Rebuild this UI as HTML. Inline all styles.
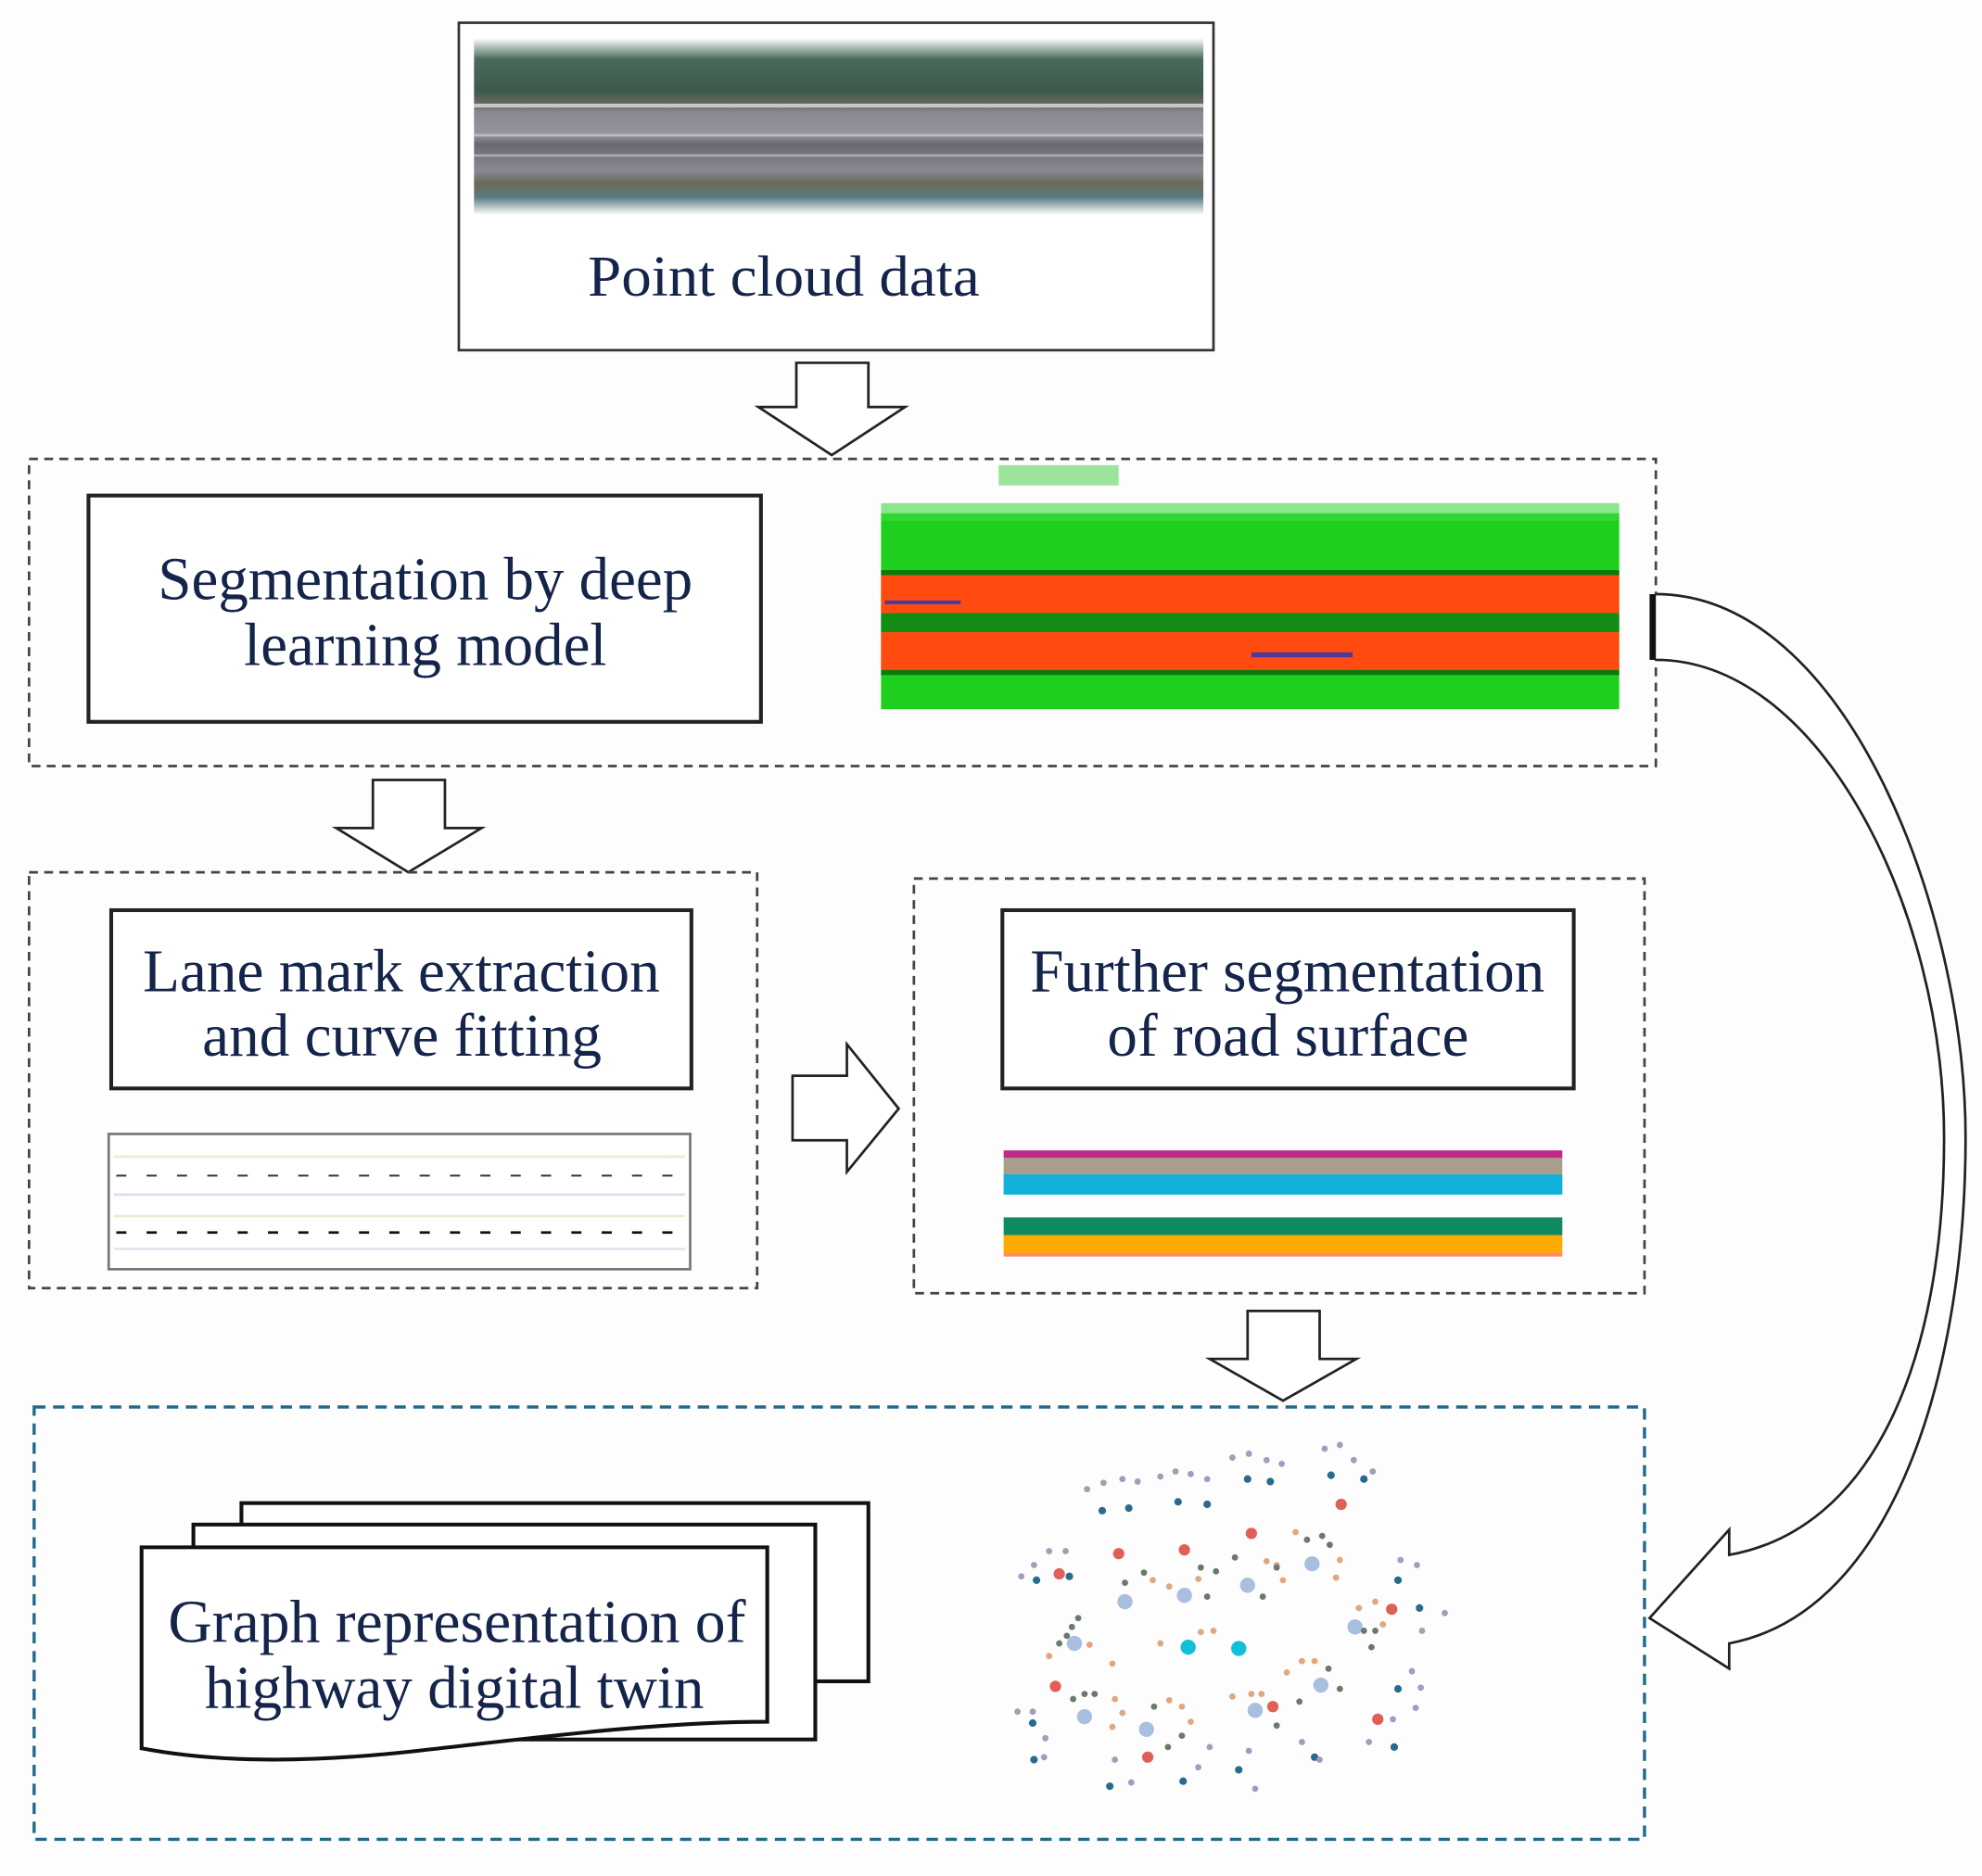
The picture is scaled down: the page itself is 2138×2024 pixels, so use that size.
<!DOCTYPE html>
<html><head><meta charset="utf-8"><style>
html,body{margin:0;padding:0;background:#fdfdfd;}
svg{display:block}
text{font-family:"Liberation Serif",serif;fill:#14244a;}
</style></head><body>
<svg width="2138" height="2024" viewBox="0 0 1568 1484" preserveAspectRatio="none" xmlns="http://www.w3.org/2000/svg">
<defs>
<linearGradient id="pc" x1="0" y1="0" x2="0" y2="1">
<stop offset="0" stop-color="#ffffff"/>
<stop offset="0.12" stop-color="#4a6a5c"/>
<stop offset="0.3" stop-color="#3c5a4a"/>
<stop offset="0.38" stop-color="#6e6a5a"/>
<stop offset="0.42" stop-color="#8a8790"/>
<stop offset="0.55" stop-color="#96939c"/>
<stop offset="0.6" stop-color="#6a6870"/>
<stop offset="0.75" stop-color="#8a8890"/>
<stop offset="0.82" stop-color="#6c6a5a"/>
<stop offset="0.9" stop-color="#5a7a80"/>
<stop offset="1" stop-color="#ffffff"/>
</linearGradient>
</defs>
<rect width="1568" height="1484" fill="#fdfdfd"/>

<rect x="363" y="18" width="597" height="259" fill="#fff" stroke="#333" stroke-width="2"/>
<rect x="375" y="30" width="577" height="140" fill="url(#pc)"/>
<rect x="375" y="82" width="577" height="3" fill="#c8c6cc"/>
<rect x="375" y="106" width="577" height="2" fill="#bdbbc2"/>
<rect x="375" y="122" width="577" height="2" fill="#aaa8b0"/>
<text x="465" y="234" font-size="46" textLength="310" lengthAdjust="spacingAndGlyphs">Point cloud data</text>

<polygon points="630,287 687,287 687,322 716,322 658,360 600,322 630,322" fill="#fff" stroke="#222" stroke-width="2"/>

<rect x="23" y="363" width="1287" height="243" fill="none" stroke="#444" stroke-width="2" stroke-dasharray="7,5"/>
<rect x="70" y="392" width="532" height="179" fill="#fff" stroke="#222" stroke-width="3"/>
<text x="125" y="474" font-size="48" textLength="423" lengthAdjust="spacingAndGlyphs">Segmentation by deep</text>
<text x="193" y="526" font-size="48" textLength="287" lengthAdjust="spacingAndGlyphs">learning model</text>

<rect x="697" y="406" width="584" height="155" fill="#1ecf1e"/>
<rect x="697" y="398" width="584" height="14" fill="#3fd83f" opacity="0.6"/>
<rect x="790" y="368" width="95" height="16" fill="#3ccb3c" opacity="0.5"/>
<rect x="697" y="451" width="584" height="4" fill="#0a7a0a"/>
<rect x="697" y="455" width="584" height="30" fill="#ff4a10"/>
<rect x="697" y="485" width="584" height="15" fill="#138c13"/>
<rect x="697" y="500" width="584" height="30" fill="#ff4a10"/>
<rect x="697" y="530" width="584" height="4" fill="#0a7a0a"/>
<rect x="990" y="516" width="80" height="4" fill="#4a3aa0"/>
<rect x="700" y="475" width="60" height="3" fill="#4a3aa0"/>

<rect x="1305" y="470" width="6" height="52" fill="#111"/>
<path d="M1310,470 C1460,470 1555,720 1555,900 C1555,1080 1500,1275 1368,1300 L1368,1320 L1305,1280 L1368,1210 L1368,1230 C1480,1210 1538,1080 1538,900 C1538,720 1440,522 1310,522" fill="#fff" stroke="#222" stroke-width="2"/>

<polygon points="295,617 352,617 352,655 381,655 323,690 266,655 295,655" fill="#fff" stroke="#222" stroke-width="2"/>

<rect x="23" y="690" width="576" height="329" fill="none" stroke="#444" stroke-width="2" stroke-dasharray="7,5"/>
<rect x="88" y="720" width="459" height="141" fill="#fff" stroke="#222" stroke-width="3"/>
<text x="113" y="784" font-size="48" textLength="409" lengthAdjust="spacingAndGlyphs">Lane mark extraction</text>
<text x="160" y="835" font-size="48" textLength="316" lengthAdjust="spacingAndGlyphs">and curve fitting</text>
<rect x="86" y="897" width="460" height="107" fill="#fff" stroke="#777" stroke-width="2"/>
<line x1="90" y1="915" x2="542" y2="915" stroke="#f3e8d0" stroke-width="2"/>
<line x1="92" y1="930" x2="540" y2="930" stroke="#333" stroke-width="1.5" stroke-dasharray="8,16"/>
<line x1="90" y1="945" x2="542" y2="945" stroke="#e0dcef" stroke-width="2"/>
<line x1="90" y1="962" x2="542" y2="962" stroke="#f3e8d0" stroke-width="2"/>
<line x1="92" y1="975" x2="540" y2="975" stroke="#111" stroke-width="2" stroke-dasharray="8,16"/>
<line x1="90" y1="988" x2="542" y2="988" stroke="#e6e3f0" stroke-width="2"/>

<polygon points="627,851 670,851 670,826 711,877 670,927 670,902 627,902" fill="#fff" stroke="#222" stroke-width="2"/>

<rect x="723" y="695" width="578" height="328" fill="none" stroke="#444" stroke-width="2" stroke-dasharray="7,5"/>
<rect x="793" y="720" width="452" height="141" fill="#fff" stroke="#222" stroke-width="3"/>
<text x="815" y="784" font-size="48" textLength="407" lengthAdjust="spacingAndGlyphs">Further segmentation</text>
<text x="876" y="835" font-size="48" textLength="286" lengthAdjust="spacingAndGlyphs">of road surface</text>
<rect x="794" y="910" width="442" height="6" fill="#c0288a"/>
<rect x="794" y="916" width="442" height="13" fill="#a89e8a"/>
<rect x="794" y="929" width="442" height="16" fill="#10b0d8"/>
<rect x="794" y="963" width="442" height="14" fill="#108a60"/>
<rect x="794" y="977" width="442" height="14" fill="#ffaa00"/>
<rect x="794" y="991" width="442" height="3" fill="#ff8a60"/>

<polygon points="987,1037 1044,1037 1044,1075 1073,1075 1015,1108 957,1075 987,1075" fill="#fff" stroke="#222" stroke-width="2"/>

<rect x="27" y="1113" width="1274" height="342" fill="none" stroke="#226a8a" stroke-width="2.5" stroke-dasharray="9,6"/>

<rect x="191" y="1189" width="496" height="141" fill="#fff" stroke="#111" stroke-width="3"/>
<rect x="153" y="1206" width="492" height="170" fill="#fff" stroke="#111" stroke-width="3"/>
<path d="M112,1224 L607,1224 L607,1362 C520,1362 420,1375 330,1385 C240,1395 170,1394 112,1383 Z" fill="#fff" stroke="#111" stroke-width="3"/>
<text x="133" y="1299" font-size="48" textLength="457" lengthAdjust="spacingAndGlyphs">Graph representation of</text>
<text x="162" y="1351" font-size="48" textLength="395" lengthAdjust="spacingAndGlyphs">highway digital twin</text>

<g>
<g fill="#a9bfe0">
<circle cx="890" cy="1267" r="6"/><circle cx="937" cy="1262" r="6"/><circle cx="987" cy="1254" r="6"/><circle cx="1038" cy="1237" r="6"/><circle cx="1072" cy="1287" r="6"/><circle cx="850" cy="1300" r="6"/><circle cx="858" cy="1358" r="6"/><circle cx="907" cy="1368" r="6"/><circle cx="993" cy="1353" r="6"/><circle cx="1045" cy="1333" r="6"/>
</g>
<circle cx="940" cy="1303" r="6" fill="#10c0d8"/><circle cx="980" cy="1304" r="6" fill="#10c0d8"/>
<g fill="#e06058">
<circle cx="885" cy="1229" r="4.5"/><circle cx="937" cy="1226" r="4.5"/><circle cx="990" cy="1213" r="4.5"/><circle cx="1061" cy="1190" r="4.5"/><circle cx="1101" cy="1273" r="4.5"/><circle cx="838" cy="1245" r="4.5"/><circle cx="835" cy="1334" r="4.5"/><circle cx="908" cy="1390" r="4.5"/><circle cx="1007" cy="1350" r="4.5"/><circle cx="1090" cy="1360" r="4.5"/>
</g>
<g fill="#2a6a90">
<circle cx="872" cy="1195" r="3"/><circle cx="893" cy="1193" r="3"/><circle cx="932" cy="1188" r="3"/><circle cx="955" cy="1190" r="3"/><circle cx="987" cy="1170" r="3"/><circle cx="1005" cy="1172" r="3"/><circle cx="1053" cy="1167" r="3"/><circle cx="1079" cy="1170" r="3"/><circle cx="820" cy="1250" r="3"/><circle cx="846" cy="1247" r="3"/><circle cx="1106" cy="1250" r="3"/><circle cx="1123" cy="1272" r="3"/><circle cx="1106" cy="1336" r="3"/><circle cx="1103" cy="1382" r="3"/><circle cx="817" cy="1363" r="3"/><circle cx="818" cy="1392" r="3"/><circle cx="878" cy="1413" r="3"/><circle cx="936" cy="1409" r="3"/><circle cx="980" cy="1400" r="3"/><circle cx="1040" cy="1390" r="3"/>
</g>
<g fill="#a89ab8">
<circle cx="860" cy="1178" r="2.5"/><circle cx="873" cy="1173" r="2.5"/><circle cx="888" cy="1170" r="2.5"/><circle cx="900" cy="1172" r="2.5"/><circle cx="918" cy="1168" r="2.5"/><circle cx="930" cy="1164" r="2.5"/><circle cx="942" cy="1166" r="2.5"/><circle cx="955" cy="1170" r="2.5"/><circle cx="975" cy="1153" r="2.5"/><circle cx="988" cy="1150" r="2.5"/><circle cx="1002" cy="1155" r="2.5"/><circle cx="1014" cy="1158" r="2.5"/><circle cx="1048" cy="1146" r="2.5"/><circle cx="1060" cy="1143" r="2.5"/><circle cx="1071" cy="1155" r="2.5"/><circle cx="1086" cy="1164" r="2.5"/><circle cx="1108" cy="1234" r="2.5"/><circle cx="1121" cy="1238" r="2.5"/><circle cx="1125" cy="1290" r="2.5"/><circle cx="1143" cy="1276" r="2.5"/><circle cx="1117" cy="1322" r="2.5"/><circle cx="1124" cy="1335" r="2.5"/><circle cx="1102" cy="1360" r="2.5"/><circle cx="1083" cy="1378" r="2.5"/><circle cx="1120" cy="1351" r="2.5"/><circle cx="808" cy="1247" r="2.5"/><circle cx="818" cy="1238" r="2.5"/><circle cx="830" cy="1227" r="2.5"/><circle cx="843" cy="1227" r="2.5"/><circle cx="805" cy="1354" r="2.5"/><circle cx="817" cy="1354" r="2.5"/><circle cx="827" cy="1375" r="2.5"/><circle cx="826" cy="1390" r="2.5"/><circle cx="882" cy="1392" r="2.5"/><circle cx="895" cy="1410" r="2.5"/><circle cx="957" cy="1382" r="2.5"/><circle cx="948" cy="1398" r="2.5"/><circle cx="988" cy="1385" r="2.5"/><circle cx="993" cy="1415" r="2.5"/><circle cx="1030" cy="1378" r="2.5"/><circle cx="1044" cy="1392" r="2.5"/></g>
<g fill="#e0a880">
<circle cx="912" cy="1250" r="2.5"/><circle cx="925" cy="1255" r="2.5"/><circle cx="948" cy="1249" r="2.5"/><circle cx="950" cy="1291" r="2.5"/><circle cx="960" cy="1290" r="2.5"/><circle cx="1002" cy="1235" r="2.5"/><circle cx="1010" cy="1238" r="2.5"/><circle cx="1015" cy="1250" r="2.5"/><circle cx="1025" cy="1212" r="2.5"/><circle cx="1060" cy="1234" r="2.5"/><circle cx="1057" cy="1248" r="2.5"/><circle cx="1088" cy="1267" r="2.5"/><circle cx="1075" cy="1272" r="2.5"/><circle cx="1094" cy="1285" r="2.5"/><circle cx="880" cy="1316" r="2.5"/><circle cx="830" cy="1310" r="2.5"/><circle cx="862" cy="1301" r="2.5"/><circle cx="918" cy="1300" r="2.5"/><circle cx="1018" cy="1323" r="2.5"/><circle cx="1030" cy="1314" r="2.5"/><circle cx="1040" cy="1314" r="2.5"/><circle cx="882" cy="1344" r="2.5"/><circle cx="888" cy="1355" r="2.5"/><circle cx="880" cy="1366" r="2.5"/><circle cx="925" cy="1345" r="2.5"/><circle cx="935" cy="1350" r="2.5"/><circle cx="942" cy="1362" r="2.5"/><circle cx="975" cy="1342" r="2.5"/><circle cx="990" cy="1340" r="2.5"/><circle cx="998" cy="1340" r="2.5"/></g>
<g fill="#6a7a6a">
<circle cx="905" cy="1244" r="2.5"/><circle cx="890" cy="1252" r="2.5"/><circle cx="955" cy="1263" r="2.5"/><circle cx="950" cy="1240" r="2.5"/><circle cx="962" cy="1243" r="2.5"/><circle cx="977" cy="1232" r="2.5"/><circle cx="999" cy="1263" r="2.5"/><circle cx="1010" cy="1240" r="2.5"/><circle cx="1034" cy="1218" r="2.5"/><circle cx="1046" cy="1215" r="2.5"/><circle cx="1052" cy="1222" r="2.5"/><circle cx="1079" cy="1290" r="2.5"/><circle cx="1085" cy="1303" r="2.5"/><circle cx="848" cy="1287" r="2.5"/><circle cx="853" cy="1280" r="2.5"/><circle cx="844" cy="1294" r="2.5"/><circle cx="838" cy="1300" r="2.5"/><circle cx="1060" cy="1336" r="2.5"/><circle cx="1051" cy="1320" r="2.5"/><circle cx="1088" cy="1290" r="2.5"/><circle cx="849" cy="1344" r="2.5"/><circle cx="858" cy="1340" r="2.5"/><circle cx="866" cy="1340" r="2.5"/><circle cx="913" cy="1350" r="2.5"/><circle cx="935" cy="1373" r="2.5"/><circle cx="924" cy="1382" r="2.5"/><circle cx="1010" cy="1365" r="2.5"/><circle cx="1028" cy="1346" r="2.5"/></g>
</g>
</svg>
</body></html>
